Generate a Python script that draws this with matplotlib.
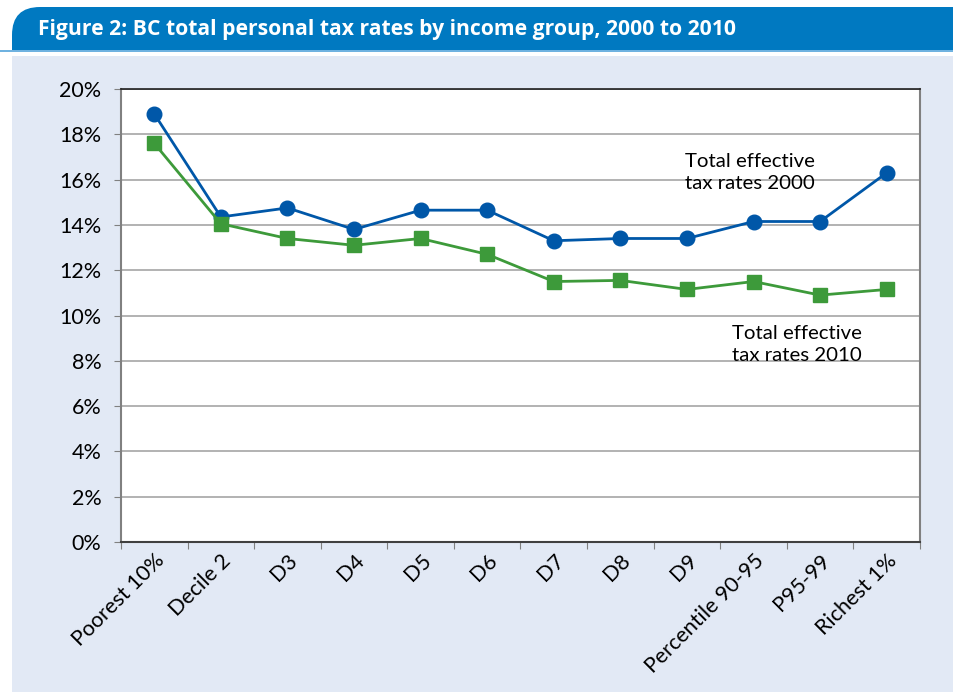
import matplotlib
matplotlib.use("Agg")
import matplotlib.pyplot as plt
from matplotlib.patches import FancyBboxPatch, Rectangle
from matplotlib.ticker import FuncFormatter, MultipleLocator, FixedLocator

# data
groups = ["Poorest 10%", "Decile 2", "D3", "D4", "D5", "D6", "D7", "D8", "D9",
          "Percentile 90-95", "P95-99", "Richest 1%"]
rates_2000 = [18.9, 14.35, 14.75, 13.8, 14.65, 14.65, 13.3, 13.4, 13.4, 14.15, 14.15, 16.3]
rates_2010 = [17.6, 14.05, 13.4, 13.1, 13.4, 12.7, 11.5, 11.55, 11.15, 11.5, 10.9, 11.15]

title = "Figure 2: BC total personal tax rates by income group, 2000 to 2010"

plt.rcParams['font.family'] = ['Lato', 'DejaVu Sans']

W, H = 954, 692
fig = plt.figure(figsize=(W / 100, H / 100), dpi=100)
fig.patch.set_facecolor("white")

# background layer in pixel coordinates
bg = fig.add_axes([0, 0, 1, 1], zorder=0)
bg.set_xlim(0, W)
bg.set_ylim(H, 0)
bg.axis("off")
header = FancyBboxPatch((12, 7), W + 40, 80, boxstyle="round,pad=0,rounding_size=28",
                        facecolor="#0079C1", edgecolor="none")
bg.add_patch(header)
bg.add_patch(Rectangle((0, 50), W, 2, facecolor="#6FB2E0", edgecolor="none"))
bg.add_patch(Rectangle((0, 52), W, 4, facecolor="white", edgecolor="none"))
bg.add_patch(Rectangle((12, 56), W, H, facecolor="#E2E9F5", edgecolor="none"))
bg.text(38, 30, title, color="white", fontsize=15.2, fontweight="bold",
        va="center", ha="left", family=["Open Sans", "DejaVu Sans"])

# main chart
ax = fig.add_axes([121 / W, 1 - 542 / H, (920 - 121) / W, (542 - 89) / H], zorder=1)
ax.set_facecolor("white")
x = list(range(len(groups)))
ax.plot(x, rates_2000, color="#0057A8", linewidth=2, marker="o", markersize=10.5,
        zorder=3)
ax.plot(x, rates_2010, color="#3D9A3A", linewidth=2, marker="s", markersize=9.5,
        zorder=3)

ax.set_xlim(-0.5, len(groups) - 0.5)
ax.set_ylim(0, 20)
ax.yaxis.set_major_locator(MultipleLocator(2))
ax.yaxis.set_major_formatter(FuncFormatter(lambda v, p: f"{v:.0f}%"))
ax.grid(axis="y", color="#A6A6A6", linewidth=1.2)
ax.set_axisbelow(True)

# category ticks between groups, labels at group centres
ax.xaxis.set_major_locator(FixedLocator([i - 0.5 for i in range(len(groups) + 1)]))
ax.xaxis.set_major_formatter(FuncFormatter(lambda v, p: ""))
ax.xaxis.set_minor_locator(FixedLocator(x))
ax.set_xticks(x, groups, minor=True, rotation=45, ha="right", rotation_mode="anchor")
ax.tick_params(axis="x", which="minor", length=0, labelsize=15.5, pad=6)
ax.tick_params(axis="x", which="major", length=5, color="#808080")
ax.tick_params(axis="y", length=5, color="#808080", labelsize=15.5, pad=9)

for s in ["left", "right"]:
    ax.spines[s].set_color("#808080")
    ax.spines[s].set_linewidth(1.5)
ax.spines["top"].set_color("#202020")
ax.spines["top"].set_linewidth(1.2)
ax.spines["bottom"].set_color("#404040")
ax.spines["bottom"].set_linewidth(1.5)

# line labels
ax.text(8.95, 16.3, "Total effective\ntax rates 2000", ha="center", va="center",
        fontsize=14.7, linespacing=1.35)
ax.text(9.65, 8.7, "Total effective\ntax rates 2010", ha="center", va="center",
        fontsize=14.7, linespacing=1.35)

fig.savefig("out.png", dpi=100, facecolor=fig.get_facecolor())
